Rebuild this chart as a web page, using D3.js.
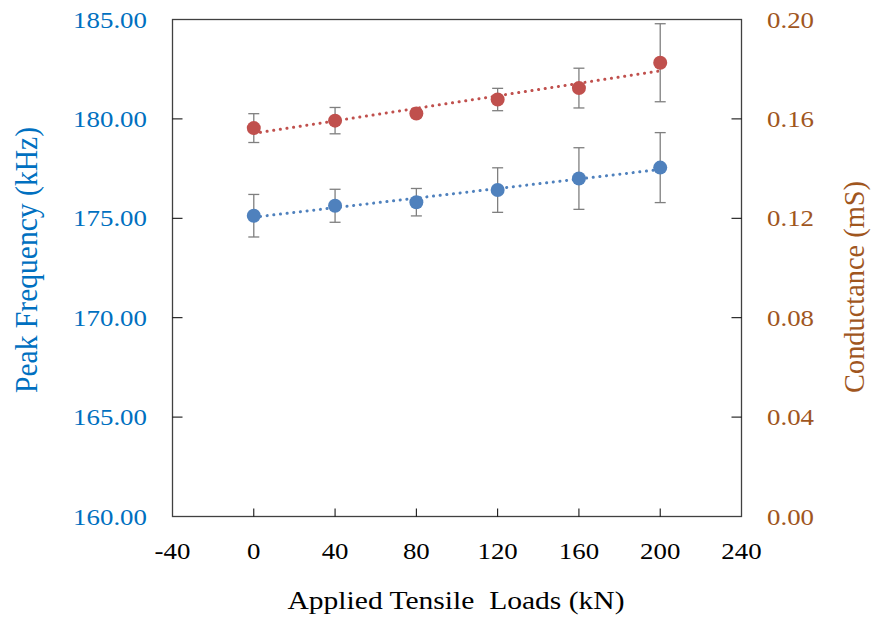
<!DOCTYPE html>
<html>
<head>
<meta charset="utf-8">
<script src="https://cdn.jsdelivr.net/npm/d3@7"></script>
<style>
  html, body { margin: 0; padding: 0; background: #fff; }
</style>
</head>
<body>
<svg id="chart" width="872" height="619"></svg>
<script>
// Applied tensile load levels (kN)
const loads = [0, 40, 80, 120, 160, 200];
// Peak frequency (kHz) and its standard deviation
const peakFreq = [175.13, 175.63, 175.81, 176.42, 177.00, 177.55];
const peakFreqErr = [1.07, 0.83, 0.69, 1.12, 1.55, 1.76];
// Conductance (mS) and its standard deviation
const conductance = [0.1563, 0.1593, 0.1622, 0.1678, 0.1724, 0.1826];
const conductanceErr = [0.0058, 0.0053, 0.0015, 0.0045, 0.0080, 0.0157];
// Tick values
const xTicks = [-40, 0, 40, 80, 120, 160, 200, 240];
const leftTicks = [160, 165, 170, 175, 180, 185];
const rightTicks = [0, 0.04, 0.08, 0.12, 0.16, 0.20];

const blueText = "#0070C0", brownText = "#A0561E";
const blueMark = "#4F81BD", redMark = "#C0504D";
const FONT = "'Liberation Serif'";
const SX = 1.12; // horizontal stretch of text glyphs

const svg = d3.select("#chart");
const L = 172.5, R = 741.5, T = 19.5, B = 516.5;

const x = d3.scaleLinear().domain([-40, 240]).range([L, R]);
const yL = d3.scaleLinear().domain([160, 185]).range([B, T]);
const yR = d3.scaleLinear().domain([0, 0.20]).range([B, T]);

// frame
svg.append("rect").attr("x", L).attr("y", T).attr("width", R - L).attr("height", B - T)
  .attr("fill", "none").attr("stroke", "#404040").attr("stroke-width", 1.3);

function stretchedText(g, px, py, anchor) {
  // text element scaled horizontally about its anchor point
  return g.append("text")
    .attr("transform", `translate(${px},${py}) scale(${SX},1)`)
    .attr("text-anchor", anchor)
    .style("font-family", FONT);
}

// bottom axis: inward ticks
const gx = svg.append("g");
xTicks.forEach(v => {
  if (v !== -40 && v !== 240) {
    gx.append("line").attr("x1", x(v)).attr("x2", x(v)).attr("y1", B).attr("y2", B - 8)
      .attr("stroke", "#000").attr("stroke-width", 1);
  }
  stretchedText(gx, x(v), 559, "middle").attr("font-size", 24).attr("fill", "#000").text(String(v));
});

// left axis
const gl = svg.append("g");
leftTicks.forEach(v => {
  if (v !== 160 && v !== 185) {
    gl.append("line").attr("x1", L).attr("x2", L + 10).attr("y1", yL(v)).attr("y2", yL(v))
      .attr("stroke", "#000").attr("stroke-width", 1);
  }
  stretchedText(gl, 147, yL(v) + 8, "end").attr("font-size", 24).attr("fill", blueText).text(d3.format(".2f")(v));
});

// right axis
const gr = svg.append("g");
rightTicks.forEach(v => {
  if (v !== 0 && v !== 0.20) {
    gr.append("line").attr("x1", R).attr("x2", R - 10).attr("y1", yR(v)).attr("y2", yR(v))
      .attr("stroke", "#000").attr("stroke-width", 1);
  }
  stretchedText(gr, 767, yR(v) + 8, "start").attr("font-size", 24).attr("fill", brownText).text(d3.format(".2f")(v));
});

// axis titles
svg.append("text").attr("transform", `translate(456,609)`)
  .attr("text-anchor", "middle").attr("font-size", 26).attr("fill", "#000")
  .attr("textLength", 337).attr("lengthAdjust", "spacingAndGlyphs")
  .style("font-family", FONT)
  .style("white-space", "pre").text("Applied Tensile  Loads (kN)");
svg.append("text").attr("transform", `translate(37,260) scale(${SX},1) rotate(-90)`)
  .attr("text-anchor", "middle").attr("font-size", 28).attr("fill", blueText)
  .attr("textLength", 266).attr("lengthAdjust", "spacingAndGlyphs")
  .style("font-family", FONT)
  .text("Peak Frequency (kHz)");
svg.append("text").attr("transform", `translate(864,287) scale(${SX},1) rotate(-90)`)
  .attr("text-anchor", "middle").attr("font-size", 27).attr("fill", brownText)
  .attr("textLength", 212).attr("lengthAdjust", "spacingAndGlyphs")
  .style("font-family", FONT)
  .text("Conductance (mS)");

// least-squares trend line
function fit(xs, ys) {
  const mx = d3.mean(xs), my = d3.mean(ys);
  const sxy = d3.sum(xs, (v, i) => (v - mx) * (ys[i] - my));
  const sxx = d3.sum(xs, v => (v - mx) ** 2);
  const k = sxy / sxx;
  return v => my + k * (v - mx);
}

function drawSeries(vals, errs, yScale, color) {
  const g = svg.append("g");
  const f = fit(loads, vals);
  const ends = [loads[0], loads[loads.length - 1]];
  g.append("path")
    .attr("d", d3.line().x(d => x(d)).y(d => yScale(f(d)))(ends))
    .attr("fill", "none").attr("stroke", color).attr("stroke-width", 3)
    .attr("stroke-dasharray", "0.1 6.6").attr("stroke-linecap", "round");
  loads.forEach((ld, i) => {
    const cx = x(ld), y1 = yScale(vals[i] + errs[i]), y2 = yScale(vals[i] - errs[i]);
    g.append("line").attr("x1", cx).attr("x2", cx).attr("y1", y1).attr("y2", y2)
      .attr("stroke", "#7F7F7F").attr("stroke-width", 1.3);
    [y1, y2].forEach(yy => g.append("line").attr("x1", cx - 5.5).attr("x2", cx + 5.5)
      .attr("y1", yy).attr("y2", yy).attr("stroke", "#7F7F7F").attr("stroke-width", 1.3));
  });
  g.selectAll("circle").data(vals).join("circle")
    .attr("cx", (d, i) => x(loads[i])).attr("cy", d => yScale(d)).attr("r", 7)
    .attr("fill", color);
}

drawSeries(peakFreq, peakFreqErr, yL, blueMark);
drawSeries(conductance, conductanceErr, yR, redMark);
</script>
</body>
</html>
